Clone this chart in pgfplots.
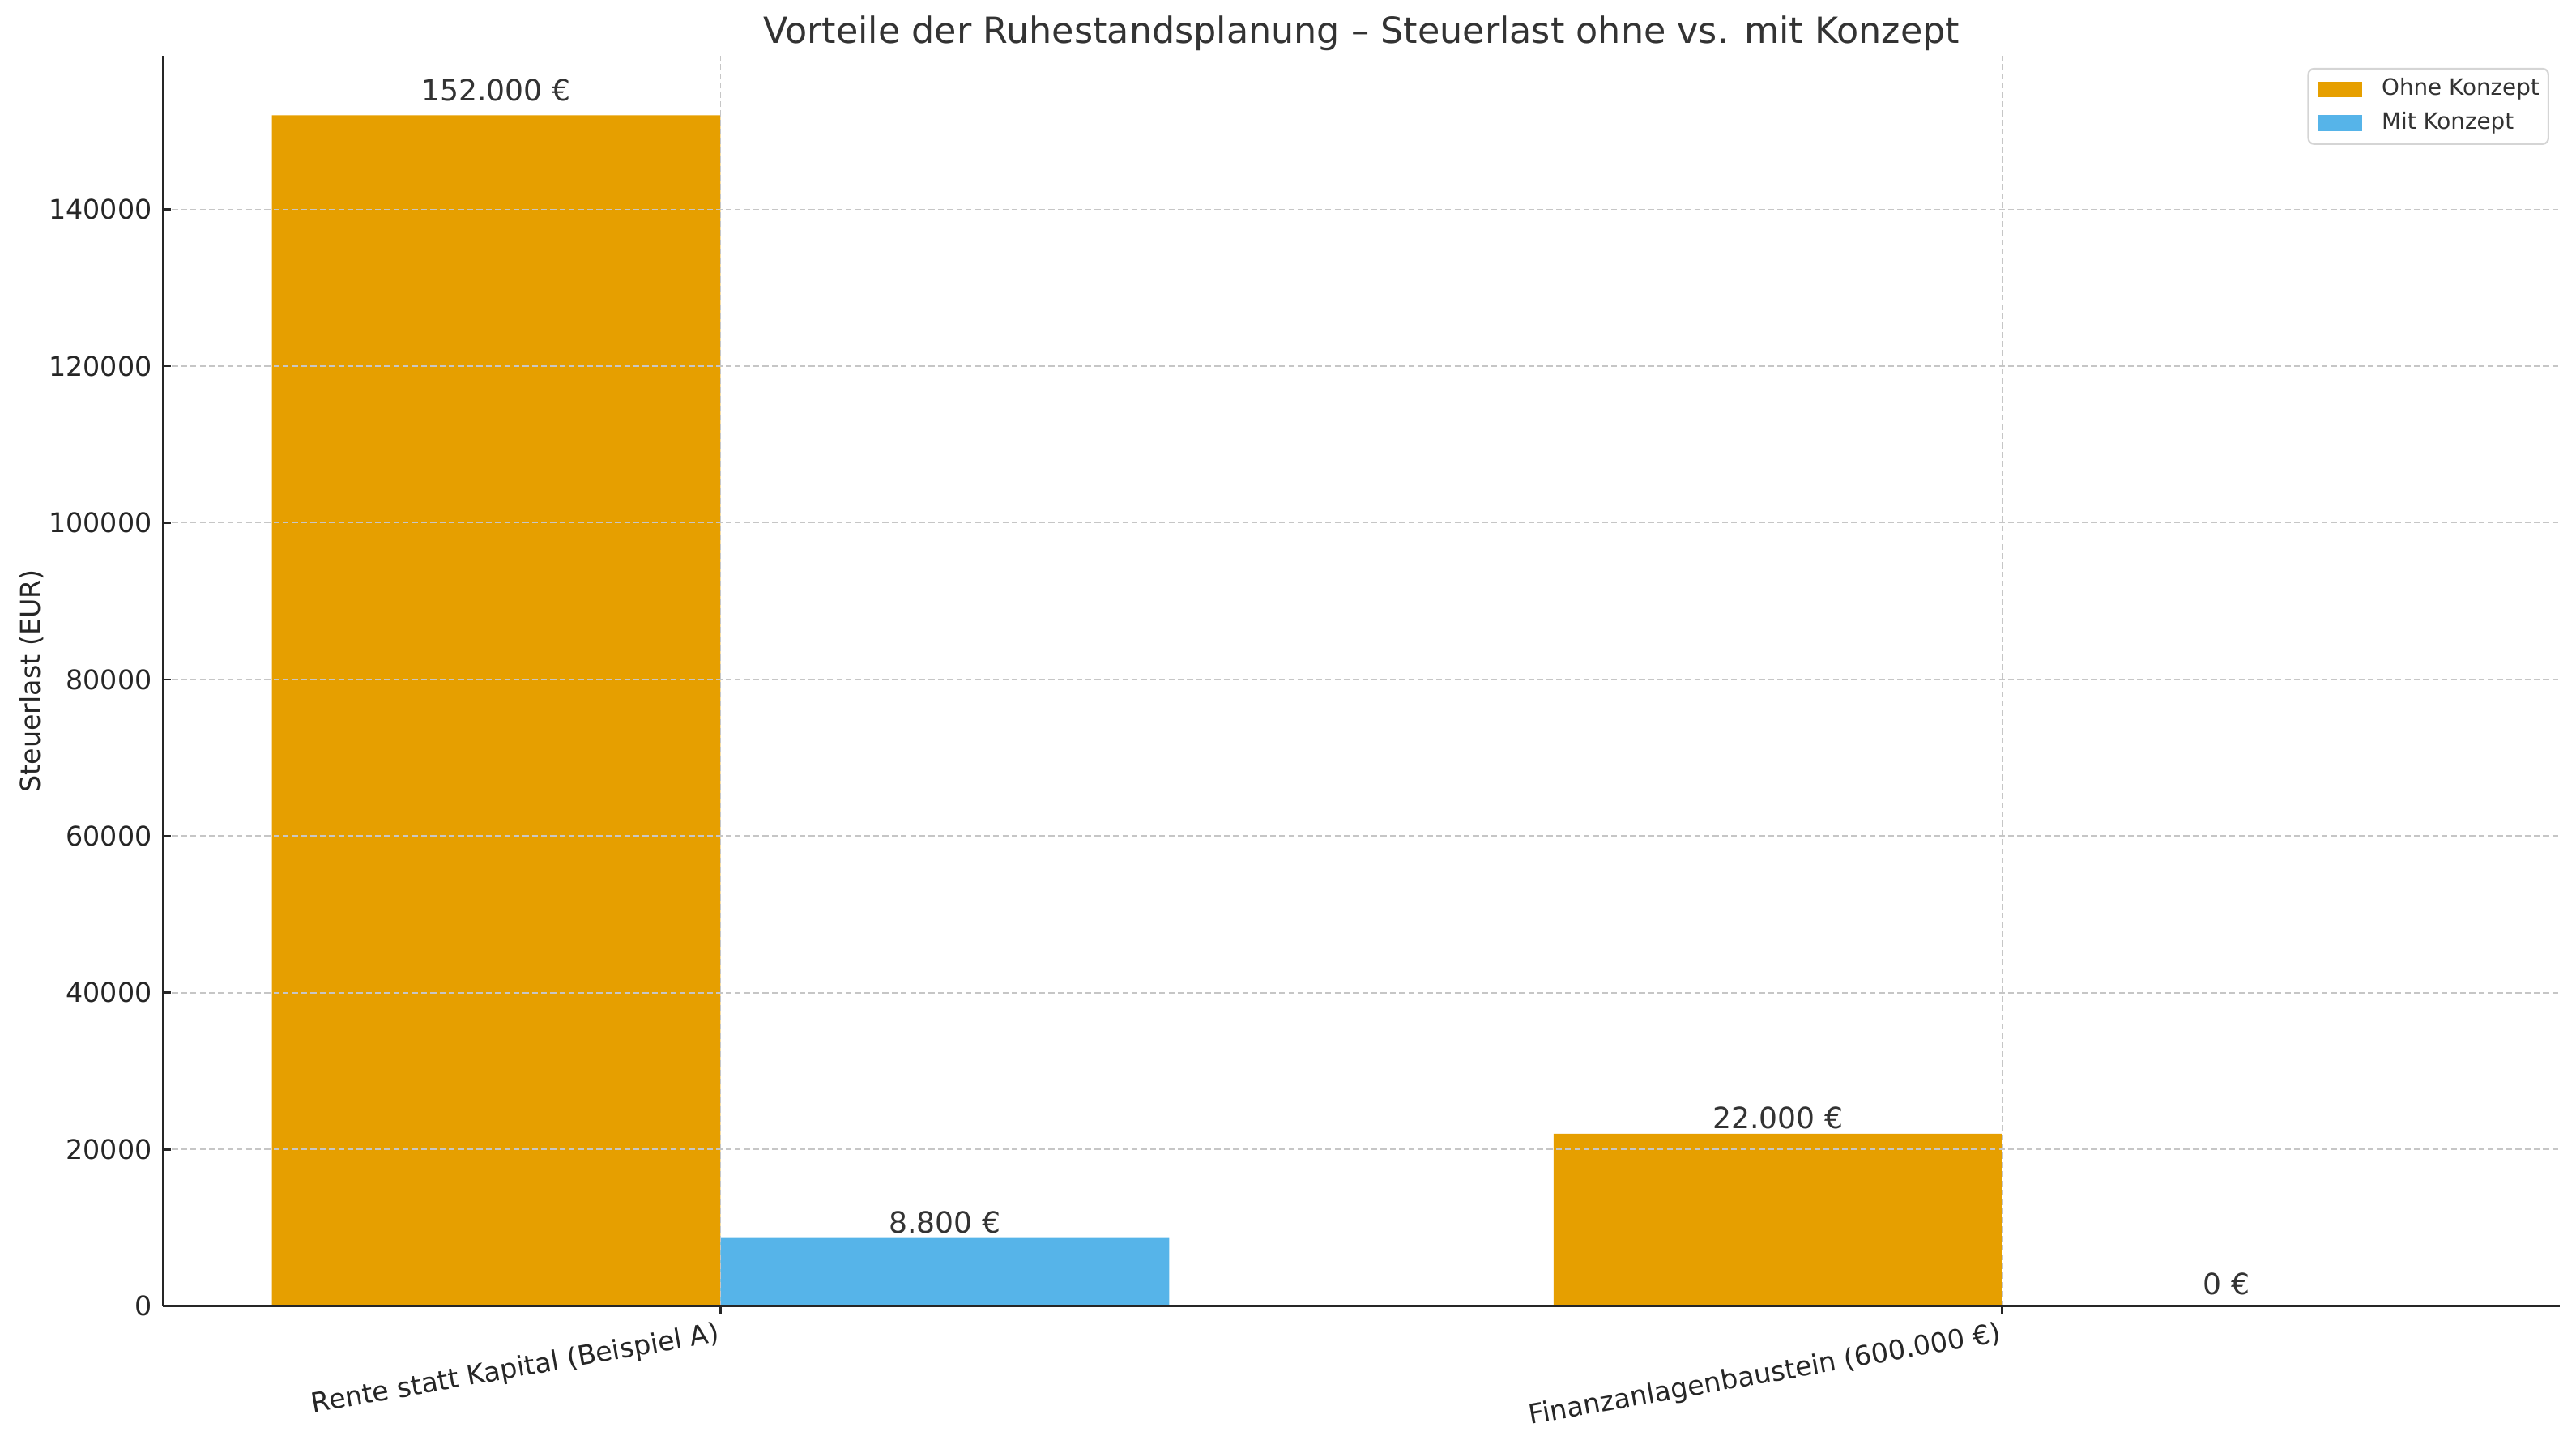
\documentclass[border=0pt]{standalone}
\usepackage{fontspec}
\setmainfont{DejaVu Sans}
\usepackage{pgfplots}
\usepackage{pgfplotstable}
\pgfplotsset{compat=1.18}
\definecolor{cOrange}{HTML}{E69F00}
\definecolor{cBlue}{HTML}{56B4E9}
\definecolor{cText}{HTML}{333333}
\definecolor{cAxis}{HTML}{262626}
\definecolor{cGrid}{HTML}{C6C6C6}
\definecolor{cLegend}{HTML}{D5D5D5}
\pgfplotstableread{
x y label off
0 152000 {152.000 €} 6.5
1 22000 {22.000 €} 2.2
}\ohne
\pgfplotstableread{
x y label off
0 8800 {8.800 €} 1.8
1 0 {0 €} 5.2
}\mit
\begin{document}
\begin{tikzpicture}
\useasboundingbox (-72.4pt,-59.4pt) rectangle (1072.4pt,580.6pt);
\begin{axis}[
  at={(0,0)}, anchor=south west,
  scale only axis, width=1065.2pt, height=555.8pt,
  xmin=-0.435, xmax=1.435, ymin=0, ymax=159600,
  enlargelimits=false,
  axis x line*=bottom, axis y line*=left,
  axis line style={-, line width=1pt, cAxis},
  tick align=inside, major tick length=3.5pt,
  tick style={line width=1pt, cAxis},
  xtick={0,1},
  xticklabels={Rente statt Kapital (Beispiel A), Finanzanlagenbaustein (600.000 €)},
  ytick={0,20000,40000,60000,80000,100000,120000,140000},
  scaled y ticks=false,
  /pgf/number format/fixed,
  /pgf/number format/precision=0,
  /pgf/number format/1000 sep={},
  /pgf/number format/assume math mode=true,
  xticklabel style={rotate=10, anchor=north east, inner sep=0pt, xshift=-2pt, yshift=-2.6pt, font=\fontsize{12}{14}\selectfont, text=cAxis},
  yticklabel style={anchor=east, inner sep=0pt, xshift=-4.7pt, font=\fontsize{12}{14}\selectfont, text=cAxis},
  grid=major,
  major grid style={line width=0.65pt, cGrid, dash pattern=on 2.6pt off 1.5pt},
  axis on top,
  every axis title shift=0pt,
  title={Vorteile der Ruhestandsplanung – Steuerlast ohne vs. mit Konzept},
  title style={at={(axis description cs:0.5,1.00972)}, anchor=base, inner sep=0pt, font=\fontsize{16}{19}\selectfont, text=cText},
  ylabel={Steuerlast (EUR)},
  ylabel style={at={(axis description cs:-0.05135,0.5)}, anchor=base, inner sep=0pt, font=\fontsize{12}{14}\selectfont, text=cAxis},
  ybar, bar width=199.4pt,
  legend style={at={(axis description cs:1,1)}, anchor=north east, xshift=-4.7pt, yshift=-5.4pt,
    draw=cLegend, line width=0.8pt, rounded corners=2.5pt, fill=white,
    font=\fontsize{10}{12}\selectfont, text=cText,
    inner xsep=4pt, inner ysep=4.2pt, row sep=5pt,
    nodes={inner sep=0pt, text depth=0.24em, text height=0.76em},
    /tikz/every odd column/.style={column sep=8.6pt}},
  legend cell align=left,
]
\addplot[fill=cOrange, draw=none, bar shift=-99.7pt,
  point meta=explicit symbolic,
  visualization depends on={\thisrow{off} \as \labeloff},
  nodes near coords={\pgfplotspointmeta},
  nodes near coords style={anchor=base, inner sep=0pt, yshift=\labeloff pt, font=\fontsize{13}{15}\selectfont, text=cText},
  legend image code/.code={\fill[cOrange, sharp corners] (0pt,-3.5pt) rectangle (20pt,3.5pt);}]
  table[x=x, y=y, meta=label] {\ohne};
\addlegendentry{Ohne Konzept}
\addplot[fill=cBlue, draw=none, bar shift=99.7pt,
  point meta=explicit symbolic,
  visualization depends on={\thisrow{off} \as \labeloff},
  nodes near coords={\pgfplotspointmeta},
  nodes near coords style={anchor=base, inner sep=0pt, yshift=\labeloff pt, font=\fontsize{13}{15}\selectfont, text=cText},
  legend image code/.code={\fill[cBlue, sharp corners] (0pt,-3.5pt) rectangle (20pt,3.5pt);}]
  table[x=x, y=y, meta=label] {\mit};
\addlegendentry{Mit Konzept}
\end{axis}
\end{tikzpicture}
\end{document}
